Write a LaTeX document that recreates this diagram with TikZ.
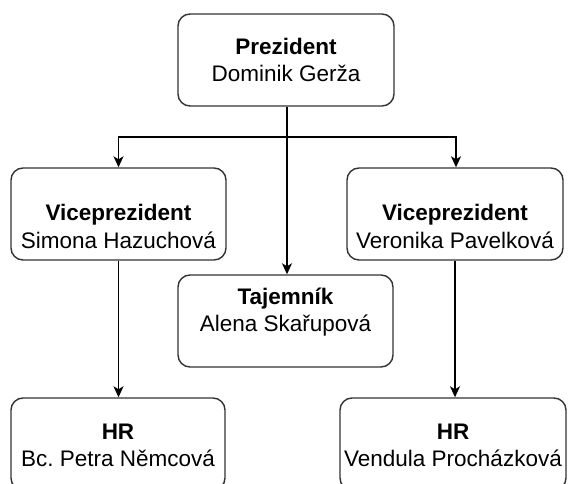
\documentclass[tikz,border=0pt]{standalone}
\usepackage{fontspec}
\setmainfont{Liberation Sans}
\usetikzlibrary{arrows.meta}
\definecolor{edge}{HTML}{333333}
\frenchspacing
\tikzset{
  box/.style={draw=edge, line width=1.4pt, rounded corners=12pt, fill=white, inner sep=0pt},
  ttl/.style={anchor=base, inner sep=0pt, font=\fontsize{22.5}{27}\selectfont\bfseries},
  nm/.style={anchor=base, inner sep=0pt, font=\fontsize{22.5}{27}\selectfont},
  arr/.style={draw=black, line width=1.4pt, -{Stealth[length=11pt,width=10pt,inset=3pt]}}
}
\begin{document}
\begin{tikzpicture}[x=1pt,y=-1pt]
\useasboundingbox (0,0) rectangle (568,484);
\clip (0,0) rectangle (568,484);
% boxes
\node[box, minimum width=216pt, minimum height=92pt] (pres) at (286,60) {};
\node[box, minimum width=215pt, minimum height=92pt] (vl) at (118.5,214) {};
\node[box, minimum width=216pt, minimum height=92pt] (vr) at (455,214) {};
\node[box, minimum width=215pt, minimum height=92pt] (taj) at (285.5,321) {};
\node[box, minimum width=214pt, minimum height=92pt] (hl) at (118,444) {};
\node[box, minimum width=226pt, minimum height=92pt] (hr) at (453,444) {};
% texts
\node[ttl] (t1) at (286,55) {Prezident};
\node[nm]  (n1) at (286,82) {Dominik Gerža};
\node[ttl] (t2) at (118.5,221) {Viceprezident};
\node[nm]  (n2) at (118.5,248) {Simona Hazuchová};
\node[ttl] (t3) at (455,221) {Viceprezident};
\node[nm]  (n3) at (455,248) {Veronika Pavelková};
\node[ttl] (t4) at (285.5,304) {Tajemník};
\node[nm]  (n4) at (285.5,331) {Alena Skařupová};
\node[ttl] (t5) at (118,439) {HR};
\node[nm]  (n5) at (118,466) {Bc.\ Petra Němcová};
\node[ttl] (t6) at (453,439) {HR};
\node[nm]  (n6) at (453,466) {Vendula Procházková};
% connectors
\coordinate (fork) at ([xshift=1pt]pres.south |- 0,137);
\coordinate (ps) at ([xshift=1pt]pres.south);
\draw[arr] (ps) -- (fork) -| (vl.north);
\draw[arr] (fork) -| ([xshift=1pt]vr.north);
\draw[arr] (ps) -- ([xshift=1.5pt]taj.north);
\draw[arr] (vl.south) -- (hl.north -| vl.south);
\draw[arr] (vr.south) -- (hr.north -| vr.south);
\end{tikzpicture}
\end{document}
